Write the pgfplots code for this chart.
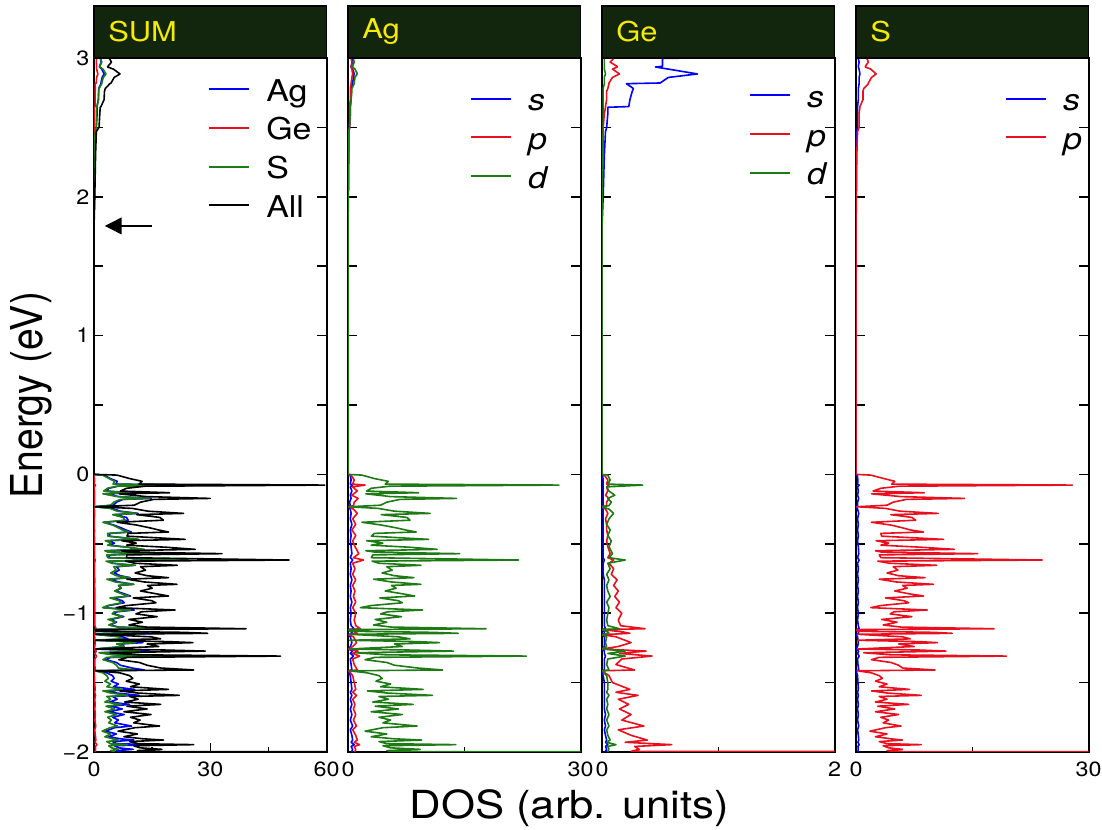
\documentclass[border=0pt]{standalone}
\usepackage{fontspec}
\setmainfont{TeX Gyre Heros}[FakeStretch=1.13]
\newfontfamily\plainfont{TeX Gyre Heros}
\usepackage{graphicx}
\usepackage{pgfplots}
\pgfplotsset{compat=1.18}
\usepackage{pgfplotstable}
\usetikzlibrary{arrows.meta}
\definecolor{hdr}{HTML}{12260D}
\definecolor{hdrtxt}{HTML}{F5EB00}
\definecolor{cb}{HTML}{0000FF}
\definecolor{cr}{HTML}{E8101E}
\definecolor{cg}{HTML}{1E7A14}

% valence band, main parts: Ag d, S p, atom totals, sum
\pgfplotstableread{
E Agd Sp Ag S All
0.000 0 0 0 0 0
-0.005 1.8 1.9 2.6 2.2 5.9
-0.030 3.4 3.6 4.2 3.9 9.2
-0.050 5.2 5.0 6.0 5.3 12.4
-0.070 4.8 4.6 5.6 4.9 11.6
-0.077 27.2 27.9 28.0 28.2 59.5
-0.085 5.4 5.6 6.2 5.9 13.2
-0.100 3.0 3.2 3.8 3.5 8.4
-0.120 2.4 2.2 3.2 2.5 6.8
-0.132 9.1 8.8 9.9 9.1 19.5
-0.140 2.3 2.0 3.1 2.3 6.5
-0.160 5.5 5.8 6.3 6.1 13.5
-0.173 14.0 14.0 14.8 14.3 30.0
-0.180 6.7 6.5 7.5 6.8 15.4
-0.200 5.0 4.8 5.8 5.1 12.0
-0.222 4.2 4.0 5.0 4.3 10.4
-0.233 0.1 0.1 0.1 0.1 0.3
-0.245 3.9 3.8 4.7 4.1 9.9
-0.265 6.0 5.7 6.8 6.0 13.9
-0.281 10.6 10.6 11.4 10.9 23.1
-0.290 4.3 4.5 5.1 4.8 11.0
-0.310 7.6 7.2 8.4 7.5 17.0
-0.330 8.0 7.7 8.8 8.0 17.9
-0.345 1.8 2.0 2.6 2.3 6.0
-0.365 4.3 4.5 5.1 4.8 11.0
-0.385 6.2 6.0 7.0 6.3 14.4
-0.400 7.4 7.0 8.2 7.3 16.6
-0.415 8.8 8.7 9.6 9.0 19.2
-0.425 3.4 3.2 4.2 3.5 8.8
-0.445 3.0 3.3 3.8 3.6 8.5
-0.468 10.4 11.3 11.2 11.6 23.5
-0.478 2.4 2.6 3.2 2.9 7.2
-0.495 4.5 4.2 5.3 4.5 10.9
-0.510 3.0 3.2 3.8 3.5 8.4
-0.525 8.0 8.5 8.8 8.8 18.7
-0.540 11.5 12.7 12.3 13.0 26.1
-0.550 2.3 2.5 3.1 2.8 7.0
-0.560 3.5 3.3 4.3 3.6 9.0
-0.571 14.4 15.7 15.2 16.0 33.0
-0.580 3.2 3.0 4.0 3.3 8.4
-0.600 3.0 3.2 3.8 3.5 8.4
-0.617 22.0 24.0 22.8 24.3 50.3
-0.625 3.1 2.8 3.9 3.1 8.1
-0.640 4.0 4.3 4.8 4.6 10.5
-0.655 9.4 10.4 10.2 10.7 21.5
-0.665 5.0 4.8 5.8 5.1 12.0
-0.690 5.7 5.4 6.5 5.7 13.3
-0.710 4.4 4.0 5.2 4.3 10.6
-0.730 6.0 5.5 6.8 5.8 13.7
-0.744 8.5 8.9 9.3 9.2 19.2
-0.755 3.3 3.0 4.1 3.3 8.5
-0.775 5.6 5.2 6.4 5.5 13.0
-0.792 9.4 10.0 10.2 10.3 21.4
-0.800 5.6 6.0 6.4 6.3 13.8
-0.820 6.2 6.6 7.0 6.9 15.0
-0.840 4.8 5.0 5.6 5.3 12.0
-0.860 7.0 6.8 7.8 7.1 16.0
-0.876 8.6 8.7 9.4 9.0 19.2
-0.890 4.1 3.8 4.9 4.1 10.1
-0.910 6.5 6.2 7.3 6.5 14.9
-0.925 7.0 6.8 7.8 7.1 16.0
-0.945 3.0 3.2 3.8 3.5 8.4
-0.960 1.6 1.9 2.4 2.2 5.7
-0.977 9.6 9.2 10.4 9.5 20.9
-0.990 5.1 4.9 5.9 5.2 12.2
-1.005 4.2 4.4 5.0 4.7 10.8
-1.025 6.9 7.2 7.7 7.5 16.3
-1.045 3.5 3.3 4.3 3.6 9.0
-1.065 5.0 5.3 5.8 5.6 12.5
-1.085 3.3 3.5 4.1 3.8 9.0
-1.100 5.6 5.8 6.4 6.1 13.6
-1.112 17.8 17.8 18.6 18.1 39.2
-1.118 0.1 0.1 0.1 0.1 0.3
-1.130 0.2 0.2 0.3 0.3 0.5
-1.138 10.9 10.0 11.7 10.3 23.1
-1.145 14.2 12.4 15.0 12.7 29.3
-1.152 0.2 0.2 0.3 0.3 0.5
-1.170 6.5 6.0 7.3 6.3 14.7
-1.185 8.0 7.0 8.8 7.3 17.2
-1.195 0.2 0.2 0.3 0.3 0.5
-1.205 9.0 8.2 9.8 8.5 19.4
-1.212 11.8 10.5 12.6 10.8 25.5
-1.222 6.0 5.5 6.8 5.8 13.7
-1.240 7.0 7.5 7.8 7.8 16.7
-1.258 0.2 0.2 0.3 0.3 0.5
-1.265 7.5 8.0 8.3 8.3 17.7
-1.273 13.6 11.6 14.4 11.9 28.7
-1.285 1.0 1.0 1.8 1.3 4.2
-1.300 5.0 4.5 5.8 4.8 11.7
-1.309 23.0 19.4 23.8 19.7 48.1
-1.318 3.5 3.0 4.3 3.3 8.7
-1.335 2.2 2.0 3.0 2.3 6.4
-1.355 5.0 4.5 5.8 4.8 11.7
-1.375 6.0 5.5 6.8 5.8 13.7
-1.395 9.0 6.0 9.8 6.3 17.2
-1.409 12.2 10.2 13.0 10.5 25.7
-1.415 0.2 0.2 0.3 0.3 0.5
-1.430 2.5 2.0 3.3 2.3 6.7
-1.450 4.0 3.0 4.8 3.3 9.2
-1.470 4.4 3.4 5.2 3.7 10.0
-1.490 3.6 2.5 4.4 2.8 8.3
-1.510 5.5 4.0 6.3 4.3 11.7
-1.530 4.2 3.0 5.0 3.3 9.4
-1.549 9.7 6.9 10.5 7.2 19.2
-1.560 2.5 2.0 3.3 2.3 6.7
-1.575 5.0 4.0 5.8 4.3 11.2
-1.592 10.9 8.4 11.7 8.7 22.0
-1.600 4.0 3.0 4.8 3.3 9.2
-1.620 5.2 4.0 6.0 4.3 11.4
-1.640 3.2 2.5 4.0 2.8 7.9
-1.657 8.4 6.8 9.2 7.1 17.2
-1.670 3.5 2.8 4.3 3.1 8.5
-1.690 6.5 5.0 7.3 5.3 13.7
-1.710 3.0 2.5 3.8 2.8 7.7
-1.730 7.0 5.5 7.8 5.8 14.7
-1.750 4.0 3.2 4.8 3.5 9.4
-1.770 5.5 4.2 6.3 4.5 11.9
-1.790 4.5 3.5 5.3 3.8 10.2
-1.813 8.9 5.8 9.7 6.1 16.9
-1.825 4.5 3.8 5.3 4.1 10.5
-1.850 2.2 1.8 3.0 2.1 6.2
-1.870 5.0 4.0 5.8 4.3 11.2
-1.890 3.0 2.5 3.8 2.8 7.7
-1.905 6.0 4.5 6.8 4.8 12.7
-1.914 9.5 6.0 10.3 6.3 17.9
-1.925 4.0 3.0 4.8 3.3 9.2
-1.940 5.0 4.0 5.8 4.3 11.2
-1.947 13.9 8.4 14.7 8.7 25.7
-1.955 4.5 3.5 5.3 3.8 10.2
-1.970 5.5 4.2 6.3 4.5 11.9
-1.981 9.3 6.0 10.1 6.3 17.5
-1.990 5.0 4.0 5.8 4.3 11.2
-1.998 6.0 5.0 6.8 5.3 13.2
-2.000 200 200 6.8 5.3 400
}\tabA

% valence band, small parts
\pgfplotstableread{
E Ags Agp Ges Gep Ged Ss Ge
0.000 0 0 0 0 0 0 0
-0.005 0.3 0.4 0.005 0.02 0.05 0.15 0.08
-0.040 0.4 0.8 0.01 0.05 0.07 0.25 0.13
-0.070 0.3 0.6 0.01 0.04 0.05 0.2 0.10
-0.077 0.6 2.2 0.01 0.06 0.35 0.4 0.42
-0.090 0.3 0.6 0.01 0.04 0.04 0.2 0.09
-0.120 0.5 1.2 0.01 0.05 0.06 0.3 0.12
-0.150 0.3 0.5 0.01 0.03 0.11 0.2 0.15
-0.173 0.4 1.3 0.01 0.06 0.05 0.35 0.12
-0.200 0.2 0.8 0.01 0.04 0.08 0.2 0.13
-0.225 0.3 0.7 0.01 0.04 0.06 0.2 0.11
-0.233 0.05 0.1 0 0 0 0.02 0
-0.250 0.3 0.7 0.01 0.03 0.06 0.2 0.10
-0.281 0.4 1.2 0.01 0.05 0.10 0.35 0.16
-0.320 0.3 0.6 0.01 0.03 0.06 0.2 0.10
-0.360 0.5 1.0 0.01 0.04 0.04 0.3 0.09
-0.400 0.3 0.5 0.01 0.04 0.07 0.2 0.12
-0.440 0.4 1.0 0.01 0.05 0.05 0.3 0.11
-0.480 0.3 0.6 0.01 0.04 0.08 0.2 0.13
-0.520 0.4 0.9 0.01 0.05 0.06 0.3 0.12
-0.571 0.5 1.4 0.01 0.07 0.09 0.35 0.17
-0.600 0.3 0.7 0.01 0.05 0.06 0.2 0.12
-0.617 0.6 2.0 0.02 0.10 0.20 0.4 0.32
-0.640 0.3 0.6 0.01 0.06 0.05 0.2 0.12
-0.680 0.4 0.9 0.01 0.10 0.07 0.3 0.18
-0.720 0.3 0.6 0.01 0.08 0.04 0.2 0.13
-0.760 0.5 1.0 0.02 0.13 0.06 0.3 0.21
-0.800 0.3 0.6 0.02 0.10 0.04 0.2 0.16
-0.840 0.4 0.9 0.02 0.14 0.05 0.3 0.21
-0.880 0.3 0.7 0.02 0.11 0.07 0.2 0.20
-0.920 0.5 1.0 0.02 0.15 0.04 0.3 0.21
-0.960 0.3 0.6 0.02 0.12 0.06 0.2 0.20
-1.000 0.4 1.0 0.02 0.17 0.05 0.3 0.24
-1.050 0.3 0.8 0.02 0.14 0.04 0.2 0.20
-1.090 0.4 1.0 0.02 0.16 0.05 0.3 0.23
-1.112 0.8 1.6 0.03 0.37 0.15 0.4 0.55
-1.118 0.05 0.1 0 0 0 0.02 0
-1.135 0.4 0.9 0.02 0.18 0.05 0.3 0.25
-1.145 0.6 1.2 0.02 0.24 0.06 0.35 0.32
-1.155 0.05 0.1 0 0 0 0.02 0
-1.170 0.3 0.7 0.02 0.12 0.04 0.2 0.18
-1.212 0.5 1.1 0.02 0.25 0.03 0.3 0.30
-1.240 0.3 0.6 0.02 0.14 0.04 0.2 0.20
-1.258 0.05 0.1 0 0 0 0.02 0
-1.273 0.6 1.3 0.02 0.38 0.20 0.35 0.60
-1.290 0.3 0.6 0.02 0.15 0.05 0.2 0.22
-1.309 0.7 1.5 0.03 0.43 0.20 0.4 0.66
-1.330 0.3 0.6 0.02 0.17 0.05 0.2 0.24
-1.370 0.4 0.8 0.02 0.12 0.04 0.25 0.18
-1.409 0.5 1.2 0.02 0.28 0.06 0.35 0.36
-1.415 0.05 0.1 0 0 0 0.02 0
-1.450 0.3 0.6 0.01 0.06 0.04 0.2 0.11
-1.500 0.4 0.8 0.02 0.09 0.05 0.25 0.16
-1.549 0.5 1.0 0.02 0.24 0.05 0.3 0.31
-1.570 0.3 0.6 0.02 0.12 0.04 0.2 0.18
-1.592 0.5 1.1 0.02 0.31 0.06 0.3 0.39
-1.620 0.3 0.6 0.02 0.14 0.04 0.2 0.20
-1.657 0.5 0.9 0.02 0.23 0.05 0.3 0.30
-1.690 0.3 0.7 0.02 0.15 0.04 0.2 0.21
-1.730 0.5 1.0 0.03 0.25 0.06 0.3 0.34
-1.770 0.3 0.7 0.02 0.17 0.04 0.2 0.23
-1.813 0.6 1.1 0.03 0.36 0.06 0.35 0.45
-1.840 0.3 0.6 0.02 0.14 0.04 0.2 0.20
-1.880 0.5 1.0 0.03 0.25 0.05 0.3 0.33
-1.914 0.6 1.2 0.04 0.39 0.07 0.35 0.50
-1.930 0.4 0.8 0.03 0.20 0.04 0.25 0.27
-1.947 0.8 1.5 0.05 0.60 0.12 0.4 0.77
-1.960 0.4 0.8 0.03 0.28 0.05 0.25 0.36
-1.981 0.6 1.0 0.04 0.32 0.06 0.3 0.42
-1.995 0.5 0.9 0.03 0.25 0.05 0.25 0.33
-2.000 0.5 0.9 0.03 10 0.05 0.25 0.33
}\tabB

% conduction band and gap
\pgfplotstableread{
E Ags Agp Agd Ag Ges Gep Ged Ge Ss Sp S All
3.000 0.5 0.4 0.7 1.6 0.80 0.10 0.02 0.92 0.3 1.4 1.7 4.2
2.997 0.5 0.4 0.7 1.6 0.52 0.10 0.02 0.64 0.3 1.4 1.7 4.0
2.970 0.6 0.5 0.8 1.9 0.52 0.07 0.02 0.61 0.4 1.6 2.0 4.5
2.940 0.4 0.4 0.6 1.4 0.52 0.13 0.02 0.67 0.3 1.2 1.5 3.6
2.935 0.4 0.4 0.6 1.4 0.46 0.13 0.02 0.61 0.3 1.2 1.5 3.5
2.920 0.6 0.5 0.9 2.0 0.57 0.09 0.02 0.68 0.4 1.9 2.3 5.0
2.885 0.8 0.6 1.2 2.6 0.82 0.15 0.03 1.00 0.5 2.6 3.1 6.7
2.860 0.7 0.5 0.9 2.1 0.57 0.09 0.02 0.68 0.4 2.0 2.4 5.2
2.820 0.6 0.4 0.8 1.8 0.50 0.06 0.02 0.58 0.4 1.6 2.0 4.4
2.815 0.6 0.4 0.8 1.8 0.21 0.06 0.02 0.29 0.4 1.6 2.0 4.1
2.780 0.4 0.3 0.5 1.2 0.27 0.05 0.01 0.33 0.3 1.0 1.3 2.9
2.760 0.4 0.3 0.5 1.2 0.26 0.04 0.01 0.31 0.3 0.9 1.2 2.7
2.700 0.4 0.3 0.4 1.1 0.24 0.04 0.01 0.29 0.3 0.9 1.2 2.6
2.650 0.3 0.2 0.3 0.8 0.23 0.03 0.01 0.27 0.2 0.5 0.7 1.8
2.645 0.3 0.2 0.3 0.8 0.05 0.03 0.01 0.09 0.2 0.5 0.7 1.6
2.600 0.3 0.2 0.3 0.8 0.05 0.02 0.01 0.08 0.2 0.4 0.6 1.5
2.500 0.2 0.2 0.2 0.6 0.04 0.01 0.01 0.06 0.2 0.4 0.6 1.3
2.470 0.1 0.1 0.1 0.3 0.03 0.01 0.01 0.05 0.1 0.2 0.3 0.6
2.300 0.1 0.05 0.05 0.2 0.02 0.01 0 0.03 0.05 0.1 0.15 0.4
2.000 0.05 0.02 0.02 0.09 0.01 0 0 0.01 0.02 0.05 0.07 0.2
1.780 0 0 0 0 0 0 0 0 0 0 0 0
0.000 0 0 0 0 0 0 0 0 0 0 0 0
}\tabC

\pgfplotsset{
  dos/.style={
    scale only axis, width=174.5pt, height=520.5pt,
    ymin=-2, ymax=3,
    ytick={-2,-1.5,...,3}, yticklabels={},
    tick align=inside, ytick pos=both, xtick pos=left,
    major tick length=7pt, minor tick length=4pt,
    axis line style={line width=1.5pt},
    every tick/.style={black, line width=1.2pt},
    tick label style={font=\fontsize{15.5}{18}\selectfont},
    xticklabel style={yshift=-4pt},
    legend style={draw=none, fill=none, font=\fontsize{22.5}{28}\selectfont,
      row sep=8pt, inner sep=0pt, nodes={inner sep=0pt},
      /tikz/every odd column/.append style={column sep=12pt}},
    legend cell align=left,
    legend image code/.code={\draw[#1, line width=1.5pt] (0pt,0pt) -- (30pt,0pt);},
    every axis plot/.append style={line width=1.2pt, line join=round},
  },
}

\begin{document}
\begin{tikzpicture}
\useasboundingbox (0,0) rectangle (826.5pt,622.5pt);

\begin{axis}[dos, name=ax1, at={(70.5pt,58.5pt)}, anchor=south west,
  xmin=0, xmax=60, xtick={0,30,60}, xticklabels={0,30,60}, minor xtick={15,45},
  yticklabels={−2,,−1,,0,,1,,2,,3},
  legend style={at={(0.49,0.976)}, anchor=north west}]
\addplot[cb] table[x=Ag, y=E] {\tabA}; \addlegendentry{\strut Ag}
\addplot[cr] table[x=Ge, y=E] {\tabB}; \addlegendentry{\strut Ge}
\addplot[cg] table[x=S, y=E] {\tabA}; \addlegendentry{\strut S}
\addplot[black] table[x=All, y=E] {\tabA}; \addlegendentry{\strut All}
\addplot[cb, forget plot] table[x=Ag, y=E] {\tabC};
\addplot[cr, forget plot] table[x=Ge, y=E] {\tabC};
\addplot[cg, forget plot] table[x=S, y=E] {\tabC};
\addplot[black, forget plot] table[x=All, y=E] {\tabC};
\draw[line width=1pt, -{Triangle[length=12.5pt, width=12.5pt]}] (axis cs:15,1.79) -- (axis cs:2.8,1.79);
\end{axis}

\begin{axis}[dos, name=ax2, at={(261pt,58.5pt)}, anchor=south west,
  xmin=0, xmax=30, xtick={0,30}, xticklabels={0,30}, minor xtick={15},
  legend style={at={(0.524,0.962)}, anchor=north west}]
\addplot[cb] table[x=Ags, y=E] {\tabB}; \addlegendentry{\strut\textit{s}}
\addplot[cr] table[x=Agp, y=E] {\tabB}; \addlegendentry{\strut\textit{p}}
\addplot[cg] table[x=Agd, y=E] {\tabA}; \addlegendentry{\strut\textit{d}}
\addplot[cb, forget plot] table[x=Ags, y=E] {\tabC};
\addplot[cr, forget plot] table[x=Agp, y=E] {\tabC};
\addplot[cg, forget plot] table[x=Agd, y=E] {\tabC};
\end{axis}

\begin{axis}[dos, name=ax3, at={(451.5pt,58.5pt)}, anchor=south west,
  xmin=0, xmax=2, xtick={0,2}, xticklabels={0,2}, minor xtick={1},
  legend style={at={(0.631,0.967)}, anchor=north west}]
\addplot[cb] table[x=Ges, y=E] {\tabB}; \addlegendentry{\strut\textit{s}}
\addplot[cr] table[x=Gep, y=E] {\tabB}; \addlegendentry{\strut\textit{p}}
\addplot[cg] table[x=Ged, y=E] {\tabB}; \addlegendentry{\strut\textit{d}}
\addplot[cb, forget plot] table[x=Ges, y=E] {\tabC};
\addplot[cr, forget plot] table[x=Gep, y=E] {\tabC};
\addplot[cg, forget plot] table[x=Ged, y=E] {\tabC};
\end{axis}

\begin{axis}[dos, name=ax4, at={(642pt,58.5pt)}, anchor=south west,
  xmin=0, xmax=30, xtick={0,30}, xticklabels={0,30}, minor xtick={15},
  legend style={at={(0.64,0.962)}, anchor=north west}]
\addplot[cb] table[x=Ss, y=E] {\tabB}; \addlegendentry{\strut\textit{s}}
\addplot[cr] table[x=Sp, y=E] {\tabA}; \addlegendentry{\strut\textit{p}}
\addplot[cb, forget plot] table[x=Ss, y=E] {\tabC};
\addplot[cr, forget plot] table[x=Sp, y=E] {\tabC};
\end{axis}

\foreach \a/\t in {ax1/SUM, ax2/Ag, ax3/Ge, ax4/S} {
  \draw[fill=hdr, line width=1.2pt] (\a.north west) rectangle ([yshift=39pt]\a.north east);
  \node[anchor=west, inner sep=0pt, text=hdrtxt, font=\fontsize{20.5}{24}\selectfont]
    at ([xshift=10.5pt, yshift=19.5pt]\a.north west) {\t};
}

\node[rotate=90, font=\plainfont\fontsize{29.4}{34}\selectfont] at (23.5pt,326pt) {\scalebox{1}[1.12]{Energy (eV)}};
\node[font=\fontsize{29}{34}\selectfont] at (427pt,16.5pt) {DOS (arb. units)};
\end{tikzpicture}
\end{document}
